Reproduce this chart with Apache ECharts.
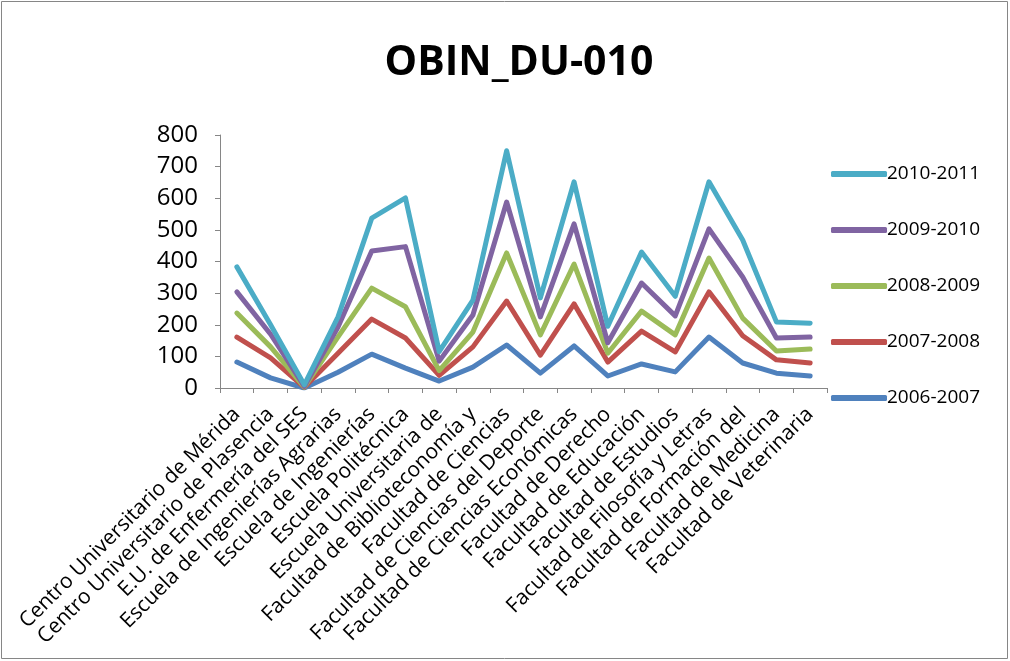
<!DOCTYPE html>
<html><head><meta charset="utf-8">
<script src="https://cdn.jsdelivr.net/npm/echarts@6/dist/echarts.min.js"></script>
<style>html,body{margin:0;padding:0;background:#fff}#c{width:1010px;height:661px}</style>
</head><body><div id="c"></div>
<script>
const categories = [
  "Centro Universitario de Mérida",
  "Centro Universitario de Plasencia",
  "E.U. de Enfermería del SES",
  "Escuela de Ingenierías Agrarias",
  "Escuela de Ingenierías",
  "Escuela Politécnica",
  "Escuela Universitaria de",
  "Facultad de Biblioteconomía y",
  "Facultad de Ciencias",
  "Facultad de Ciencias del Deporte",
  "Facultad de Ciencias Económicas",
  "Facultad de Derecho",
  "Facultad de Educación",
  "Facultad de Estudios",
  "Facultad de Filosofía y Letras",
  "Facultad de Formación del",
  "Facultad de Medicina",
  "Facultad de Veterinaria"
];
const s2006 = [82,32,0,50,107,63,22,66,136,47,133,38,76,51,161,79,47,38];
const s2007 = [79,63,2,60,111,95,18,64,139,57,133,44,104,63,143,86,42,41];
const s2008 = [76,35,1,52,98,99,15,47,152,64,126,28,63,54,107,56,28,44];
const s2009 = [67,40,2,31,117,190,30,54,161,57,127,33,89,60,92,130,41,38];
const s2010 = [79,30,5,32,104,154,30,47,162,60,133,52,98,62,149,117,51,44];
const seriesNames = ["2006-2007","2007-2008","2008-2009","2009-2010","2010-2011"];
const yTicks = [0,100,200,300,400,500,600,700,800];

const colors = ["#4F81BD","#C0504D","#9BBB59","#8064A2","#4BACC6"];
const dataSets = [s2006,s2007,s2008,s2009,s2010];
const font = "'Open Sans', 'Noto Sans', sans-serif";

const chart = echarts.init(document.getElementById('c'), null, {renderer:'canvas'});
chart.setOption({
  animation:false,
  backgroundColor:'#fff',
  title:{text:'OBIN_DU-010', left:514, top:38, textAlign:'center',
    textStyle:{fontFamily:font, fontWeight:'bold', fontSize:41, color:'#000'}},
  graphic:[{type:'rect', shape:{x:1.5,y:1.5,width:1006,height:657},
    style:{fill:null, stroke:'#868686', lineWidth:1}, silent:true}],
  legend:{
    orient:'vertical', left:826, top:158,
    data:seriesNames.slice().reverse(),
    icon:'roundRect', itemWidth:56, itemHeight:6, itemGap:34,
    textStyle:{fontFamily:font, fontSize:19, color:'#000', lineHeight:22, padding:[0,0,0,-5]}
  },
  grid:{left:220, right:183, top:135, bottom:273, containLabel:false},
  xAxis:{
    type:'category', data:categories, boundaryGap:true,
    axisLine:{lineStyle:{color:'#868686', width:1}},
    axisTick:{show:true, length:5, inside:false, lineStyle:{color:'#868686'}},
    axisLabel:{interval:0, rotate:45, margin:23, fontFamily:font, fontSize:21, color:'#000'}
  },
  yAxis:{
    type:'value', min:yTicks[0], max:yTicks[yTicks.length-1], interval:100,
    axisLine:{show:true, lineStyle:{color:'#868686', width:1}},
    axisTick:{show:true, length:5, lineStyle:{color:'#868686'}},
    splitLine:{show:false},
    axisLabel:{fontFamily:font, fontSize:24, color:'#000', margin:22}
  },
  series: seriesNames.map((n,i)=>({
    name:n, type:'line', stack:'total', data:dataSets[i],
    showSymbol:false, symbol:'none',
    lineStyle:{width:5, color:colors[i], cap:'round', join:'round'},
    itemStyle:{color:colors[i]}, z:2+i
  }))
});
</script></body></html>
